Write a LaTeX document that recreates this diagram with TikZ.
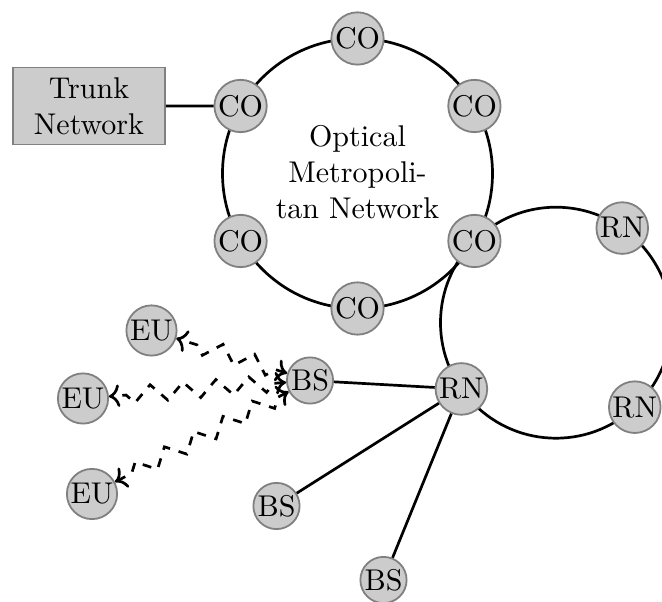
\documentclass[tikz,border=0pt]{standalone}
\usetikzlibrary{decorations.pathmorphing,calc,arrows.meta}
\begin{document}
\begin{tikzpicture}[x=0.33333pt,y=-0.33333pt,
  netnode/.style={circle,draw=gray,fill=gray!40,line width=0.6pt,inner sep=0.3pt},
  link/.style={line width=0.9pt},
  wave/.style={<->,dashed,line width=0.9pt,decorate,
    decoration={zigzag,segment length=11pt,amplitude=2.8pt,pre length=4pt,post length=4pt}},
  boxnode/.style={draw=gray,fill=gray!40,line width=0.6pt,align=center,
    minimum width=50.7pt,minimum height=25.3pt}]
\useasboundingbox (0,0) rectangle (662,602);
\coordinate (c1) at (357.5,173.5);
\coordinate (c2) at (556,322.7);
\draw[link] (c1) circle[radius=45pt];
\draw[link] (c2) circle[radius=38.5pt];
\node[align=center] (optlabel) at (357.5,172) {Optical\\Metropoli-\\tan Network};
% optical ring
\node[netnode] (co1) at ($(c1)+(90:45pt)$) {CO};
\node[netnode] (co2) at ($(c1)+(30:45pt)$) {CO};
\node[netnode] (co3) at ($(c1)+(150:45pt)$) {CO};
\node[netnode] (co4) at ($(c1)+(-30:45pt)$) {CO};
\node[netnode] (co5) at ($(c1)+(-150:45pt)$) {CO};
\node[netnode] (co6) at ($(c1)+(-90:45pt)$) {CO};
% access ring
\node[netnode] (rn1) at ($(c2)+(55:38.5pt)$) {RN};
\node[netnode] (rn2) at ($(c2)+(215:38.5pt)$) {RN};
\node[netnode] (rn3) at ($(c2)+(-47:38.5pt)$) {RN};
% trunk
\node[boxnode] (trunk) at (89,106) {Trunk\\Network};
\draw[link] (trunk) -- (co3);
% base stations
\node[netnode] (bs1) at (310,380.5) {BS};
\node[netnode] (bs2) at (276.5,506) {BS};
\node[netnode] (bs3) at (383.5,580) {BS};
\draw[link] (rn2) -- (bs1);
\draw[link] (rn2) -- (bs2);
\draw[link] (rn2) -- (bs3);
% end users
\node[netnode] (eu1) at (151.5,330.5) {EU};
\node[netnode] (eu2) at (83,398.5) {EU};
\node[netnode] (eu3) at (92,494) {EU};
\draw[wave] (bs1) -- (eu1);
\draw[wave] (bs1) -- (eu2);
\draw[wave] (bs1) -- (eu3);
\end{tikzpicture}
\end{document}
